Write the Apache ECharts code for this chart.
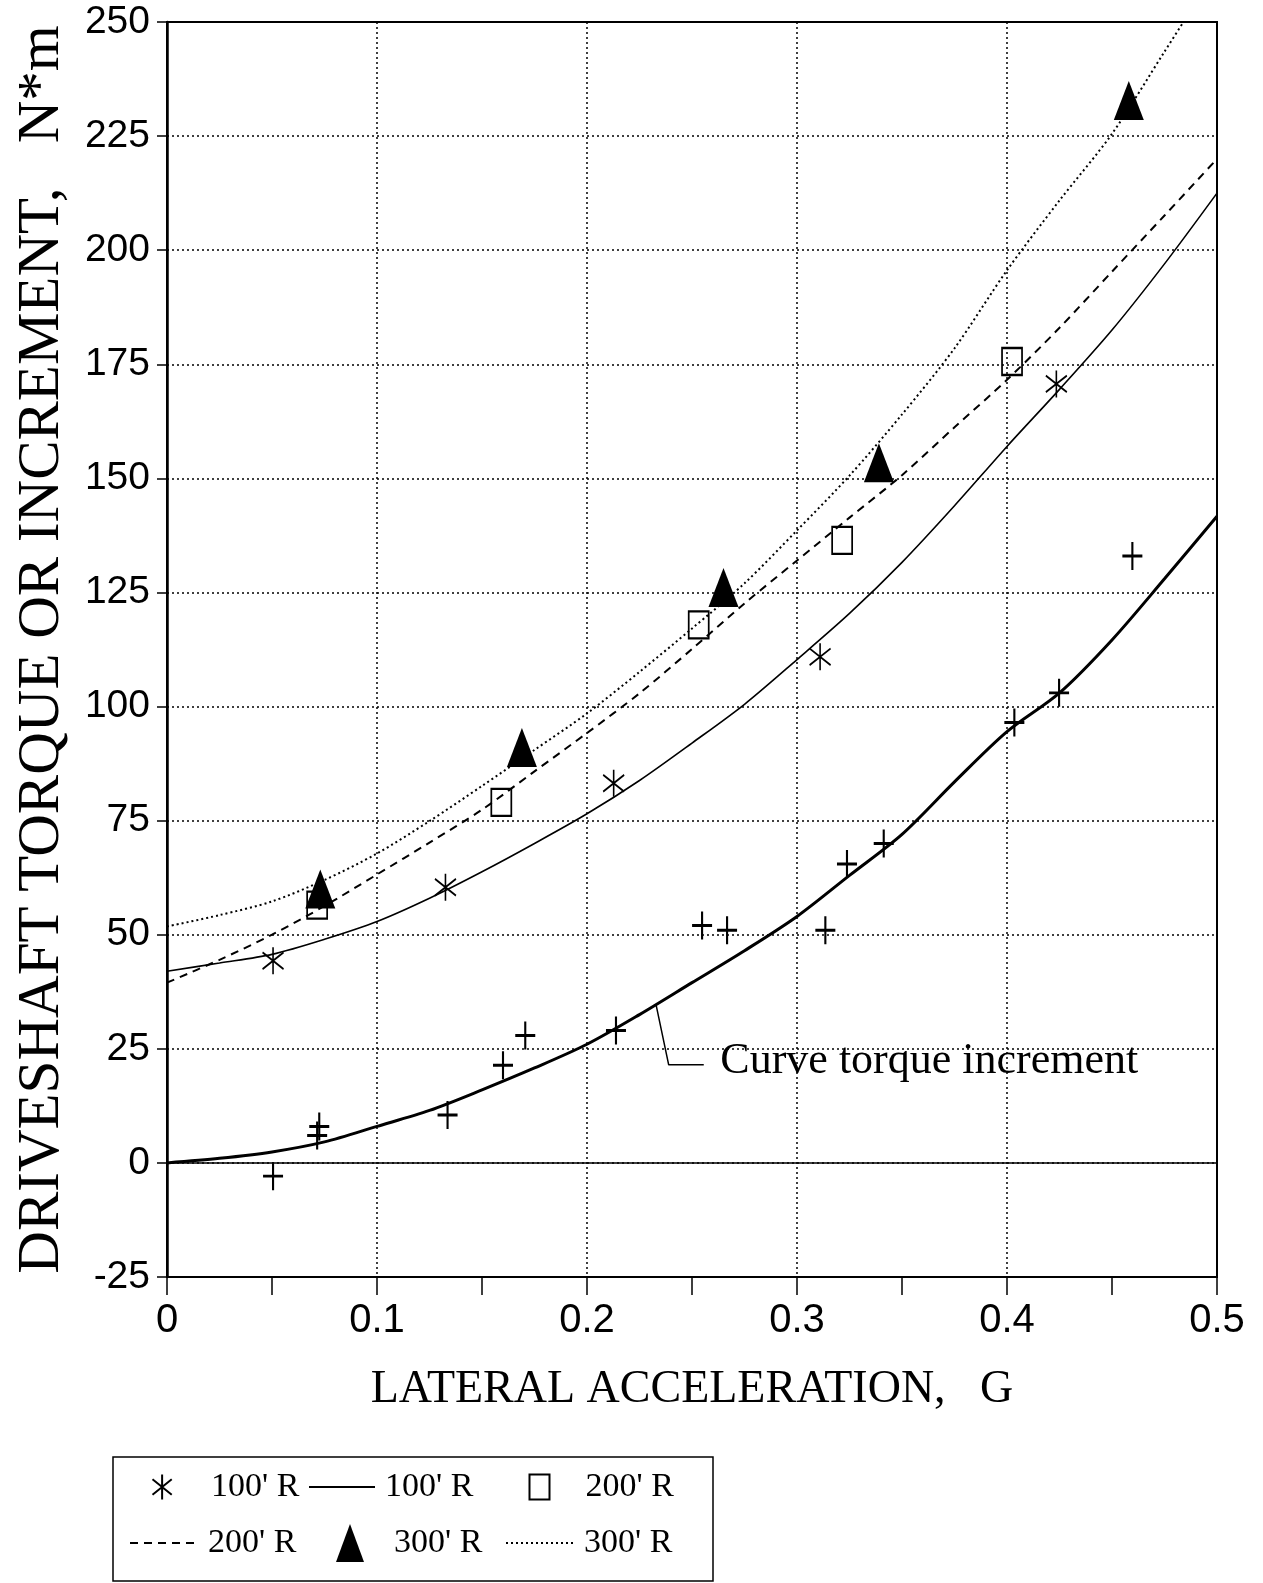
<!DOCTYPE html>
<html>
<head>
<meta charset="utf-8">
<title>Driveshaft torque vs lateral acceleration</title>
<script src="https://cdn.jsdelivr.net/npm/echarts@6/dist/echarts.min.js"></script>
<style>
  html, body { margin: 0; padding: 0; background: #fff; }
  #main { width: 1263px; height: 1583px; }
</style>
</head>
<body>
<div id="main"></div>
<script>
// values: x = lateral acceleration (G), y = torque (N*m)

// measured points
var pts100 = [[0.0505, 44.3], [0.1326, 60.4], [0.2127, 83.2], [0.311, 110.9], [0.4235, 170.7]];
var pts200 = [[0.0715, 56.5], [0.1592, 79.0], [0.2532, 117.9], [0.3215, 136.4], [0.4024, 175.6]];
var pts300 = [[0.073, 60.0], [0.169, 91.0], [0.265, 126.1], [0.339, 153.4], [0.458, 232.8]];
var ptsIncrement = [
  [0.0505, -2.9], [0.0715, 6.0], [0.0725, 8.0], [0.1336, 10.5], [0.160, 21.4],
  [0.1706, 27.9], [0.2138, 29.0], [0.2548, 52.0], [0.2667, 51.0], [0.3135, 51.0],
  [0.3238, 65.5], [0.3413, 70.0], [0.4035, 96.5], [0.4248, 103.0], [0.4597, 133.0]
];

// fitted curves, read every 0.025 G
var fitX = [0, 0.025, 0.05, 0.075, 0.1, 0.125, 0.15, 0.175, 0.2, 0.225, 0.25,
            0.275, 0.3, 0.325, 0.35, 0.375, 0.4, 0.425, 0.45, 0.475, 0.5];
var fit100 = [42, 43.8, 45.7, 49, 52.9, 58, 63.8, 70, 76.5, 83.8, 92,
              100.5, 110.3, 120.4, 131.6, 144, 157, 169.5, 182.5, 197, 212.5];
var fit200 = [39.5, 44.5, 50, 56.3, 63.2, 70.2, 77.4, 85.8, 94.2, 102.9, 112.6,
              122.6, 132, 141.4, 150.7, 161.2, 171.6, 183, 195.3, 207.6, 220];
var fit300X = [0, 0.025, 0.05, 0.075, 0.1, 0.125, 0.15, 0.175, 0.2, 0.225, 0.25,
               0.275, 0.3, 0.325, 0.35, 0.375, 0.4, 0.425, 0.45, 0.475, 0.484];
var fit300 = [51.8, 54.3, 57.3, 62, 67.8, 74.9, 82.6, 90.5, 98.5, 107.6, 117.1,
              127, 138.6, 150.6, 164, 178.5, 195.6, 210.9, 225.5, 243.5, 250];
var fitIncrement = [0, 1.0, 2.4, 4.6, 8.0, 11.5, 16.0, 20.8, 26.0, 32.5, 39.5,
                    46.5, 54.0, 63.0, 72.0, 83.5, 94.5, 103.0, 114.6, 128.0, 141.7];

// callout for the increment curve
var leaderLine = [[0.233, 34.4], [0.2389, 21.5], [0.2556, 21.5]];
var calloutAt = [0.2635, 22.3];
var calloutText = 'Curve torque increment';

var xTicks = { min: 0, max: 0.5, interval: 0.1 };
var yTicks = { min: -25, max: 250, interval: 25 };

function pairs(xs, ys) {
  var out = [];
  for (var i = 0; i < xs.length; i++) out.push([xs[i], ys[i]]);
  return out;
}

var SERIF = "'Liberation Serif', 'Times New Roman', serif";
var SANS = "'Liberation Sans', Arial, sans-serif";
var NARROW = "'Liberation Sans Narrow', 'Liberation Sans', Arial, sans-serif";

var ASTERISK = 'path://M0,-13L0,13M-10,-8L10,8M-10,8L10,-8';
var PLUS = 'path://M0,-14L0,14M-10,0L10,0';

function stripTag(name) { return name.replace(/ (pts|fit)$/, ''); }

// one legend per entry so each sits where it does in the figure
function legendItem(name, left, top, w, h, pad, isLine) {
  var item = {
    data: [name], left: left, top: top, padding: 0,
    itemWidth: w, itemHeight: h, selectedMode: false,
    formatter: stripTag,
    textStyle: { fontFamily: SERIF, fontSize: 34, color: '#000', lineHeight: 38, padding: [0, 0, 0, pad] }
  };
  item.itemStyle = isLine ? { opacity: 0 } : { opacity: 1 };
  return item;
}

var chart = echarts.init(document.getElementById('main'));

var legendBox = {
  id: 'legendBox', type: 'rect',
  shape: { x: 113, y: 1457, width: 600, height: 124 },
  style: { fill: 'none', stroke: '#000', lineWidth: 1.5 }
};

var option = {
  animation: false,
  backgroundColor: '#fff',
  grid: { left: 167, right: 46, top: 22, bottom: 306, show: true, borderColor: '#000', borderWidth: 2 },
  legend: [
    legendItem("100' R pts", 150, 1468, 22, 25, 33, false),
    legendItem("100' R fit", 308, 1468, 66, 25, 5, true),
    legendItem("200' R pts", 527, 1468, 20, 25, 31, false),
    legendItem("200' R fit", 129, 1524, 68, 25, 5, true),
    legendItem("300' R pts", 336, 1524, 28, 38, 25, false),
    legendItem("300' R fit", 505, 1524, 68, 25, 5, true)
  ],
  xAxis: {
    type: 'value', min: xTicks.min, max: xTicks.max, interval: xTicks.interval,
    name: 'LATERAL ACCELERATION,   G', nameLocation: 'middle', nameGap: 90,
    nameTextStyle: { fontFamily: SERIF, fontSize: 46, color: '#000' },
    axisLine: { onZero: false, lineStyle: { color: '#000', width: 2 } },
    axisTick: { show: true, inside: false, length: 18, lineStyle: { color: '#000', width: 1.5 } },
    minorTick: { show: true, splitNumber: 2, length: 18, lineStyle: { color: '#000', width: 1.5 } },
    axisLabel: { fontFamily: NARROW, fontSize: 40, color: '#000', margin: 24,
      formatter: function (v) { return String(+v.toFixed(1)); } },
    splitLine: { show: true, lineStyle: { color: '#000', width: 1.5, type: [2, 3] } }
  },
  yAxis: {
    type: 'value', min: yTicks.min, max: yTicks.max, interval: yTicks.interval,
    name: 'DRIVESHAFT TORQUE OR INCREMENT,   N*m', nameLocation: 'middle', nameGap: 95,
    nameTextStyle: { fontFamily: SERIF, fontSize: 59, color: '#000' },
    axisLine: { show: true, lineStyle: { color: '#000', width: 2.5 } },
    axisTick: { show: true, inside: false, length: 10, lineStyle: { color: '#000', width: 1.5 } },
    axisLabel: { fontFamily: SANS, fontSize: 39, color: '#000', margin: 17 },
    splitLine: { show: true, lineStyle: { color: '#000', width: 1.5, type: [2, 3] } }
  },
  series: [
    {
      name: "100' R fit", type: 'line', data: pairs(fitX, fit100), symbol: 'none', smooth: 0.3,
      lineStyle: { color: '#000', width: 1.6, type: 'solid' }, itemStyle: { color: '#000' }, z: 3
    },
    {
      name: "200' R fit", type: 'line', data: pairs(fitX, fit200), symbol: 'none', smooth: 0.3,
      lineStyle: { color: '#000', width: 2, type: [8, 6] }, itemStyle: { color: '#000' }, z: 3
    },
    {
      name: "300' R fit", type: 'line', data: pairs(fit300X, fit300), symbol: 'none', smooth: 0.3,
      lineStyle: { color: '#000', width: 2, type: [2, 3] }, itemStyle: { color: '#000' }, z: 3
    },
    {
      name: 'increment fit', type: 'line', data: pairs(fitX, fitIncrement), symbol: 'none', smooth: 0.3,
      lineStyle: { color: '#000', width: 3 }, itemStyle: { color: '#000' }, z: 3,
      markLine: {
        silent: true, symbol: ['none', 'none'], label: { show: false },
        lineStyle: { color: '#000', width: 1.5, type: 'solid' },
        data: [{ yAxis: 0 }]
      }
    },
    {
      name: 'leader', type: 'line', data: leaderLine, symbol: 'none', smooth: false,
      lineStyle: { color: '#000', width: 1.5 }, z: 3
    },
    {
      name: "100' R pts", type: 'scatter', data: pts100, symbol: ASTERISK, symbolSize: [21, 27],
      itemStyle: { color: 'none', borderColor: '#000', borderWidth: 1.8, opacity: 1 }, z: 5
    },
    {
      name: "200' R pts", type: 'scatter', data: pts200, symbol: 'rect', symbolSize: [20, 27],
      itemStyle: { color: 'none', borderColor: '#000', borderWidth: 2, opacity: 1 }, z: 5
    },
    {
      name: "300' R pts", type: 'scatter', data: pts300, symbol: 'triangle', symbolSize: [30, 39],
      itemStyle: { color: '#000', opacity: 1 }, z: 5
    },
    {
      name: 'increment pts', type: 'scatter', data: ptsIncrement, symbol: PLUS, symbolSize: [20, 28],
      itemStyle: { color: 'none', borderColor: '#000', borderWidth: 2.5, opacity: 1 }, z: 5
    }
  ],
  graphic: [legendBox]
};

chart.setOption(option);

var at = chart.convertToPixel({ gridIndex: 0 }, calloutAt);
chart.setOption({
  graphic: [
    legendBox,
    {
      id: 'callout', type: 'text', x: at[0], y: at[1],
      style: { text: calloutText, fontFamily: SERIF, fontSize: 44, fill: '#000', verticalAlign: 'middle' }
    }
  ]
});
</script>
</body>
</html>
